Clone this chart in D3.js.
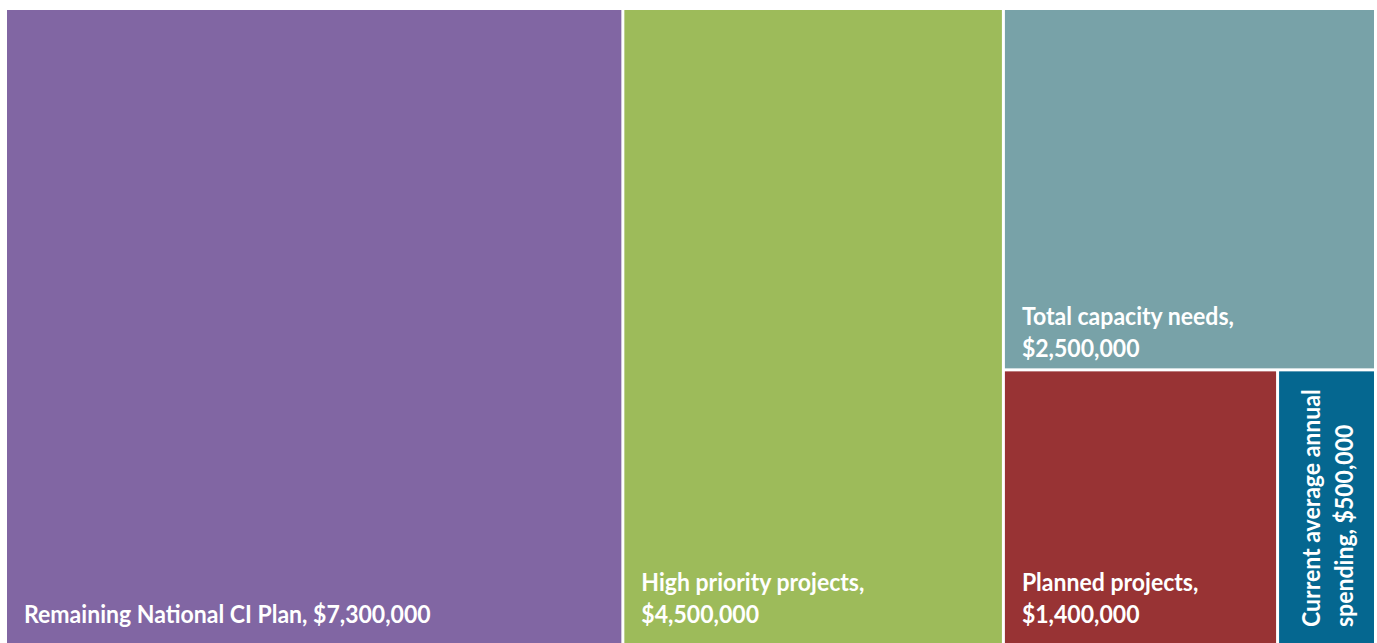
<!DOCTYPE html>
<html>
<head>
<meta charset="utf-8">
<script src="https://cdn.jsdelivr.net/npm/d3@7"></script>
<style>
  html, body { margin: 0; padding: 0; background: #fff; }
  svg { display: block; }
</style>
</head>
<body>
<svg id="chart" width="1377" height="643"></svg>
<script>
// Spending categories (USD) shown as nested tiles
const categories = [
  "Remaining National CI Plan",
  "High priority projects",
  "Total capacity needs",
  "Planned projects",
  "Current average annual spending"
];
const values = [7300000, 4500000, 2500000, 1400000, 500000];
// Words kept on the first line of each label (null = single line)
const firstLineWords = [null, 3, 3, 2, 3];
const colors = ["#8166a3", "#9dbb5a", "#78a2a8", "#983334", "#056790"];

const svg = d3.select("#chart");
const W = 1377, H = 643;
const margin = { top: 10, right: 3, bottom: 0, left: 7 };

const fmt = v => "$" + d3.format(",")(v);
const leaves = categories.map((name, i) => ({ name, value: values[i], i }));

// Layout: first | second | [third over [fourth | fifth]]
const tree = {
  name: "root",
  children: [
    leaves[0],
    leaves[1],
    { name: "g1", children: [leaves[2], { name: "g2", children: [leaves[3], leaves[4]] }] }
  ]
};

const root = d3.hierarchy(tree).sum(d => d.value || 0);

d3.treemap()
  .size([W - margin.left - margin.right, H - margin.top - margin.bottom])
  .paddingInner(3)
  .tile((node, x0, y0, x1, y1) =>
    (node.depth % 2 === 0 ? d3.treemapDice : d3.treemapSlice)(node, x0, y0, x1, y1))
  (root);

const g = svg.append("g").attr("transform", `translate(${margin.left},${margin.top})`);

const cell = g.selectAll("g.cell")
  .data(root.leaves())
  .join("g")
  .attr("class", "cell");

cell.append("rect")
  .attr("x", d => d.x0)
  .attr("y", d => d.y0)
  .attr("width", d => d.x1 - d.x0)
  .attr("height", d => d.y1 - d.y0)
  .attr("fill", d => colors[d.data.i]);

function labelLines(d) {
  const full = `${d.data.name}, ${fmt(d.data.value)}`;
  const n = firstLineWords[d.data.i];
  if (n == null) return [full];
  const words = full.split(" ");
  return [words.slice(0, n).join(" "), words.slice(n).join(" ")];
}

const fontSize = 24;
const lineH = 32;
const padX = 17;
const squeeze = 0.96;

cell.each(function (d) {
  const lines = labelLines(d);
  const sel = d3.select(this);
  const vertical = (d.x1 - d.x0) < 150;
  // Labels sit at the lower-left corner of each tile
  const bottomPad = d.data.i === 2 ? 11 : 20;
  let t;
  if (!vertical) {
    t = sel.append("g")
      .attr("transform", `translate(${d.x0 + padX},${d.y1 - bottomPad - (lines.length - 1) * lineH}) scale(${squeeze},1)`);
  } else {
    // Narrow tile: label runs bottom-to-top
    t = sel.append("g")
      .attr("transform", `translate(${d.x0 + 41},${d.y1 - 16}) rotate(-90) scale(${squeeze},1)`);
  }
  lines.forEach((line, k) => {
    t.append("text")
      .attr("x", 0)
      .attr("y", k * (vertical ? 33 : lineH))
      .attr("fill", "#fff")
      .attr("font-family", "Lato, 'Open Sans', sans-serif")
      .attr("font-weight", 700)
      .attr("font-size", fontSize)
      .text(line);
  });
});
</script>
</body>
</html>
